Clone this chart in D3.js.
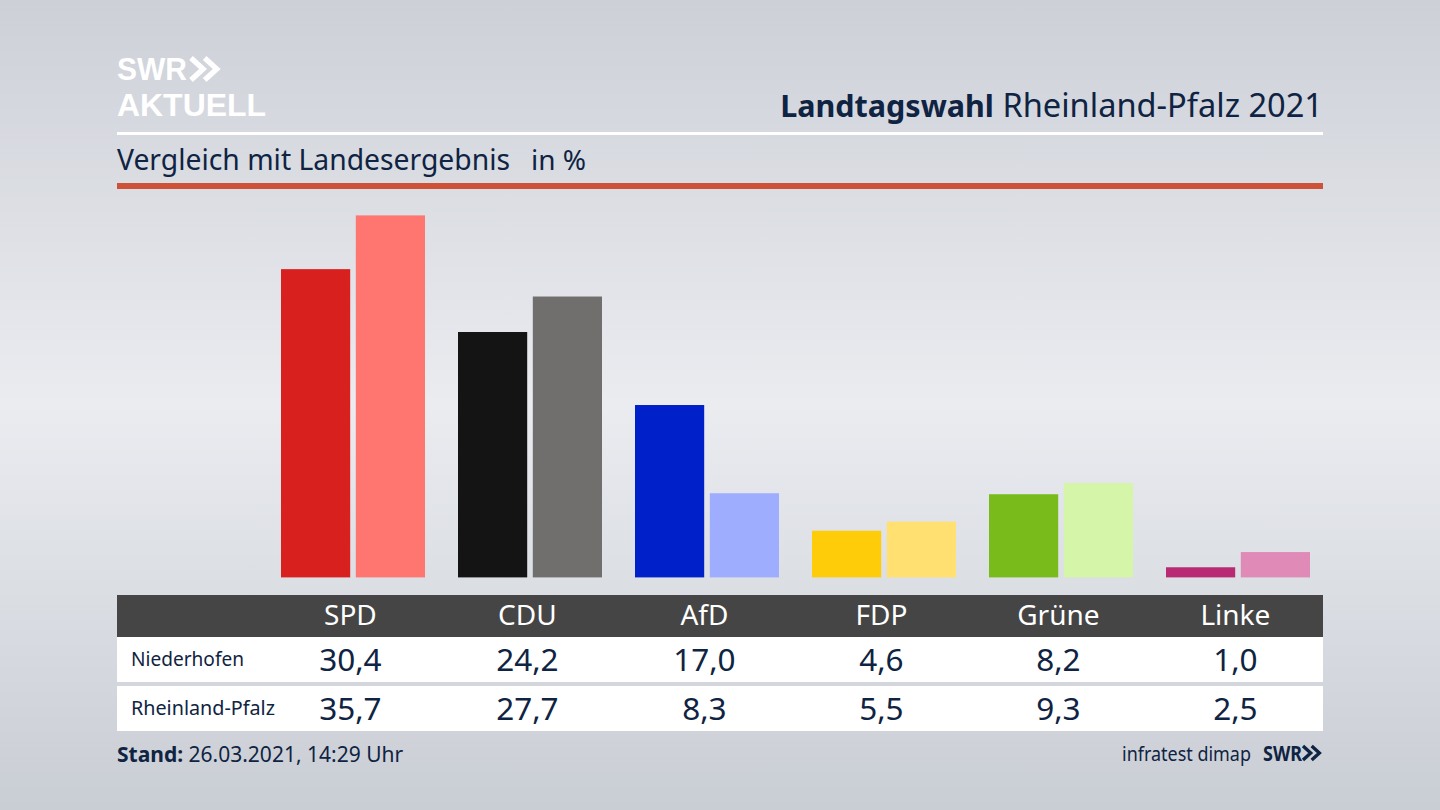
<!DOCTYPE html>
<html>
<head>
<meta charset="utf-8">
<script src="https://d3js.org/d3.v7.min.js"></script>
<style>
    html, body { margin: 0; padding: 0; overflow: hidden; background: #d5d8de; }
    svg { display: block; }
    text { font-family: "Noto Sans", sans-serif; fill: #0f2342; }
</style>
</head>
<body>
<div id="chart"></div>
<script>
var parties = ["SPD", "CDU", "AfD", "FDP", "Grüne", "Linke"];
var rows = ["Niederhofen", "Rheinland-Pfalz"];
var niederhofen = [30.4, 24.2, 17.0, 4.6, 8.2, 1.0];
var rheinlandPfalz = [35.7, 27.7, 8.3, 5.5, 9.3, 2.5];
var darkColors = ["#d8201f", "#141414", "#0021c9", "#ffcc0a", "#78bb1b", "#b92a75"];
var lightColors = ["#ff7570", "#716f6d", "#9fadff", "#ffe070", "#d5f5a8", "#e08ab8"];

var width = 1440;
var height = 810;

var svg = d3.select("#chart")
    .append("svg")
    .attr("width", width)
    .attr("height", height);

// background
var defs = svg.append("defs");
var bg = defs.append("linearGradient")
    .attr("id", "bg")
    .attr("x1", 0).attr("y1", 0)
    .attr("x2", 0).attr("y2", 1);
bg.append("stop").attr("offset", "0%").attr("stop-color", "#cdd0d7");
bg.append("stop").attr("offset", "50%").attr("stop-color", "#eaecf0");
bg.append("stop").attr("offset", "100%").attr("stop-color", "#c9cdd4");

svg.append("rect")
    .attr("width", width)
    .attr("height", height)
    .attr("fill", "url(#bg)");

// logo top left
function chevrons(x, y, size, color) {
    [0, 0.62].forEach(function(k) {
        var x0 = x + k * size;
        svg.append("path")
            .attr("d", `M${x0},${y} L${x0 + size * 0.55},${y + size / 2} L${x0},${y + size}`)
            .attr("fill", "none")
            .attr("stroke", color)
            .attr("stroke-width", size * 0.24);
    });
}

svg.append("text")
    .attr("x", 117).attr("y", 80)
    .attr("font-size", 31)
    .attr("font-weight", 700)
    .attr("textLength", 70)
    .attr("lengthAdjust", "spacingAndGlyphs")
    .style("font-family", "'Liberation Sans', sans-serif")
    .style("fill", "#fff")
    .text("SWR");
chevrons(191, 58, 22, "#fff");

svg.append("text")
    .attr("x", 117).attr("y", 116)
    .attr("font-size", 32)
    .attr("font-weight", 700)
    .attr("textLength", 149)
    .attr("lengthAdjust", "spacingAndGlyphs")
    .style("font-family", "'Liberation Sans', sans-serif")
    .style("fill", "#fff")
    .text("AKTUELL");

// header
var title = svg.append("text")
    .attr("x", 1323).attr("y", 117)
    .attr("text-anchor", "end");
title.append("tspan").attr("font-size", 30.5).attr("font-weight", 700).text("Landtagswahl");
title.append("tspan").attr("font-size", 32.6).text(" Rheinland-Pfalz 2021");

svg.append("rect")
    .attr("x", 117).attr("y", 132)
    .attr("width", 1206).attr("height", 3)
    .attr("fill", "#fff");

svg.append("text")
    .attr("x", 117).attr("y", 170)
    .attr("font-size", 28.3)
    .text("Vergleich mit Landesergebnis");
svg.append("text")
    .attr("x", 531).attr("y", 170)
    .attr("font-size", 28)
    .text("in %");

svg.append("rect")
    .attr("x", 117).attr("y", 183)
    .attr("width", 1206).attr("height", 6)
    .attr("fill", "#cd5238");

// bars
var xScale = d3.scaleBand()
    .domain(parties)
    .range([264.5, 1326.5])
    .paddingInner(33 / 177)
    .paddingOuter(33 / 354);

var seriesScale = d3.scaleBand()
    .domain([0, 1])
    .range([0, xScale.bandwidth()])
    .paddingInner(0.075);

var yScale = d3.scaleLinear()
    .domain([0, 35.7])
    .range([577.4, 215.4]);

var barGroups = svg.selectAll("g.party")
    .data(parties)
    .enter().append("g")
    .attr("class", "party")
    .attr("transform", d => `translate(${xScale(d)}, 0)`);

[niederhofen, rheinlandPfalz].forEach(function(values, s) {
    var colors = s === 0 ? darkColors : lightColors;
    barGroups.append("rect")
        .attr("x", seriesScale(s))
        .attr("width", seriesScale.bandwidth())
        .attr("y", (d, i) => yScale(values[i]))
        .attr("height", (d, i) => yScale(0) - yScale(values[i]))
        .attr("fill", (d, i) => colors[i]);
});

// table
var tableColumn = d => xScale(d) + xScale.bandwidth() / 2 - 2.6;

svg.append("rect")
    .attr("x", 117).attr("y", 595)
    .attr("width", 1206).attr("height", 42)
    .attr("fill", "#454545");

svg.selectAll("text.head")
    .data(parties)
    .enter().append("text")
    .attr("class", "head")
    .attr("x", tableColumn)
    .attr("y", 625)
    .attr("text-anchor", "middle")
    .attr("font-size", 28)
    .style("fill", "#fff")
    .text(d => d);

var rowTops = [637, 686];
var rowValues = [niederhofen, rheinlandPfalz];
var comma = d3.format(".1f");

rows.forEach(function(name, r) {
    svg.append("rect")
        .attr("x", 117).attr("y", rowTops[r])
        .attr("width", 1206).attr("height", 45)
        .attr("fill", "#fff");

    svg.append("text")
        .attr("x", 131).attr("y", rowTops[r] + 29)
        .attr("font-size", 19.7)
        .attr("textLength", r === 0 ? 113 : 144)
        .attr("lengthAdjust", "spacingAndGlyphs")
        .text(name);

    svg.selectAll("text.val" + r)
        .data(parties)
        .enter().append("text")
        .attr("class", "val" + r)
        .attr("x", tableColumn)
        .attr("y", rowTops[r] + 34)
        .attr("text-anchor", "middle")
        .attr("font-size", 31.5)
        .text((d, i) => comma(rowValues[r][i]).replace(".", ","));
});

// footer
var stand = svg.append("text")
    .attr("x", 117).attr("y", 762)
    .attr("font-size", 21);
stand.append("tspan").attr("font-weight", 700).text("Stand:");
stand.append("tspan").text(" 26.03.2021, 14:29 Uhr");

svg.append("text")
    .attr("x", 1122).attr("y", 761)
    .attr("font-size", 20)
    .attr("textLength", 129)
    .attr("lengthAdjust", "spacingAndGlyphs")
    .text("infratest dimap");

svg.append("text")
    .attr("x", 1263).attr("y", 761)
    .attr("font-size", 21)
    .attr("font-weight", 700)
    .attr("textLength", 39)
    .attr("lengthAdjust", "spacingAndGlyphs")
    .text("SWR");
chevrons(1303, 746, 14, "#0f2342");
</script>
</body>
</html>
